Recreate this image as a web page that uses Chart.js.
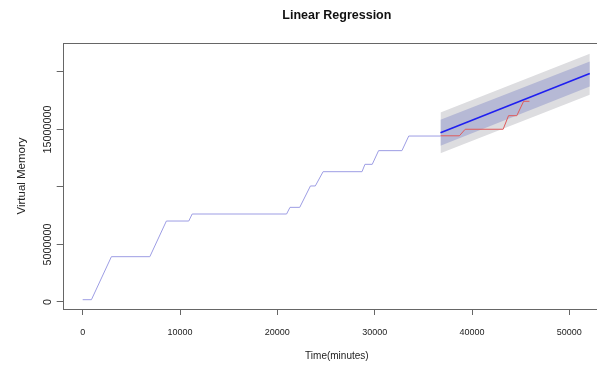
<!DOCTYPE html>
<html>
<head>
<meta charset="utf-8">
<script src="https://cdn.jsdelivr.net/npm/chart.js@4/dist/chart.umd.min.js"></script>
<style>
  html, body { margin: 0; padding: 0; background: #fff; overflow: hidden; }
  #wrap { width: 620px; height: 367px; }
</style>
</head>
<body>
<div id="wrap"><canvas id="chart" width="620" height="367"></canvas></div>
<script>
// observed series (minutes, bytes)
const histTime = [0, 900, 2950, 6900, 8600, 10900, 11250, 20950, 21300, 22300, 23400, 23900, 24700, 28700, 29000, 29750, 30400, 32800, 33500, 36760];
const histMem = [200000, 200000, 3940000, 3940000, 7040000, 7040000, 7650000, 7650000, 8230000, 8230000, 10090000, 10090000, 11330000, 11330000, 11970000, 11970000, 13160000, 13160000, 14430000, 14430000];

// held-out actual values
const actualTime = [36760, 38700, 39300, 43200, 43750, 44600, 45300, 45900];
const actualMem = [14450000, 14450000, 15020000, 15020000, 16200000, 16200000, 17450000, 17450000];

// regression forecast and intervals
const fcTime = [36760, 52100];
const fcMean = [14720000, 19870000];
const lo80 = [13580000, 18730000];
const hi80 = [15850000, 20920000];
const lo95 = [12930000, 18010000];
const hi95 = [16480000, 21580000];

const xTicks = [0, 10000, 20000, 30000, 40000, 50000];
const yTicks = [0, 5000000, 10000000, 15000000, 20000000];
const yTickLabels = ['0', '5000000', '', '15000000', ''];

const colors = {
  hist: '#9d9de4',
  actual: '#e05a5a',
  mean: '#1f1ff0',
  band80: '#b6b9d5',
  band95: '#dddde0',
  axis: '#666',
  text: '#222'
};

const font = '"Liberation Sans", Arial, Helvetica, sans-serif';

function pts(xs, ys) {
  return xs.map((x, i) => ({ x: x, y: ys[i] }));
}

const boxPlugin = {
  id: 'box',
  afterDraw(chart) {
    const a = chart.chartArea;
    const ctx = chart.ctx;
    ctx.save();
    ctx.strokeStyle = colors.axis;
    ctx.lineWidth = 1;
    ctx.strokeRect(Math.round(a.left) + 0.5, Math.round(a.top) + 0.5,
      Math.round(a.right - a.left), Math.round(a.bottom - a.top));
    ctx.restore();
  }
};

new Chart(document.getElementById('chart'), {
  type: 'line',
  data: {
    datasets: [
      { data: pts(histTime, histMem), borderColor: colors.hist, borderWidth: 1, order: 0 },
      { data: pts(actualTime, actualMem), borderColor: colors.actual, borderWidth: 1, order: 0 },
      { data: pts(fcTime, fcMean), borderColor: colors.mean, borderWidth: 1.6, order: 0 },
      { data: pts(fcTime, hi80), borderWidth: 0, fill: '+1', backgroundColor: colors.band80, order: 1 },
      { data: pts(fcTime, lo80), borderWidth: 0, order: 1 },
      { data: pts(fcTime, hi95), borderWidth: 0, fill: '+1', backgroundColor: colors.band95, order: 2 },
      { data: pts(fcTime, lo95), borderWidth: 0, order: 2 }
    ]
  },
  options: {
    responsive: false,
    animation: false,
    parsing: false,
    elements: { point: { radius: 0 }, line: { tension: 0 } },
    layout: { padding: { left: 0, right: 9, top: 0, bottom: 0 } },
    plugins: {
      legend: { display: false },
      tooltip: { enabled: false },
      title: {
        display: true,
        fullSize: false,
        text: 'Linear Regression',
        color: '#111',
        font: { family: font, size: 12.5, weight: 'bold' },
        padding: { top: 8.5, bottom: 19.5 }
      }
    },
    scales: {
      x: {
        type: 'linear',
        min: -2053,
        max: 54280,
        afterFit: s => { s.height = 58; },
        afterBuildTicks: s => { s.ticks = xTicks.map(v => ({ value: v })); },
        border: { display: false },
        grid: { drawOnChartArea: false, drawTicks: true, tickLength: 6, color: colors.axis },
        ticks: {
          autoSkip: false,
          maxRotation: 0,
          padding: 12,
          color: colors.text,
          font: { family: font, size: 9 },
          callback: v => String(v)
        },
        title: {
          display: true,
          text: 'Time(minutes)',
          color: colors.text,
          font: { family: font, size: 10 },
          padding: { top: 0, bottom: 5 }
        }
      },
      y: {
        type: 'linear',
        min: -609000,
        max: 22520000,
        afterFit: s => { s.width = 62.7; },
        afterBuildTicks: s => { s.ticks = yTicks.map(v => ({ value: v })); },
        border: { display: false },
        grid: { drawOnChartArea: false, drawTicks: true, tickLength: 6, color: colors.axis },
        ticks: {
          autoSkip: false,
          minRotation: 90,
          maxRotation: 90,
          crossAlign: 'center',
          padding: -15,
          color: colors.text,
          font: { family: font, size: 10.8 },
          callback: (v, i) => yTickLabels[i]
        },
        title: {
          display: true,
          text: 'Virtual Memory',
          color: colors.text,
          font: { family: font, size: 11.5 },
          padding: { top: 15, bottom: 0 }
        }
      }
    }
  },
  plugins: [boxPlugin]
});
</script>
</body>
</html>
